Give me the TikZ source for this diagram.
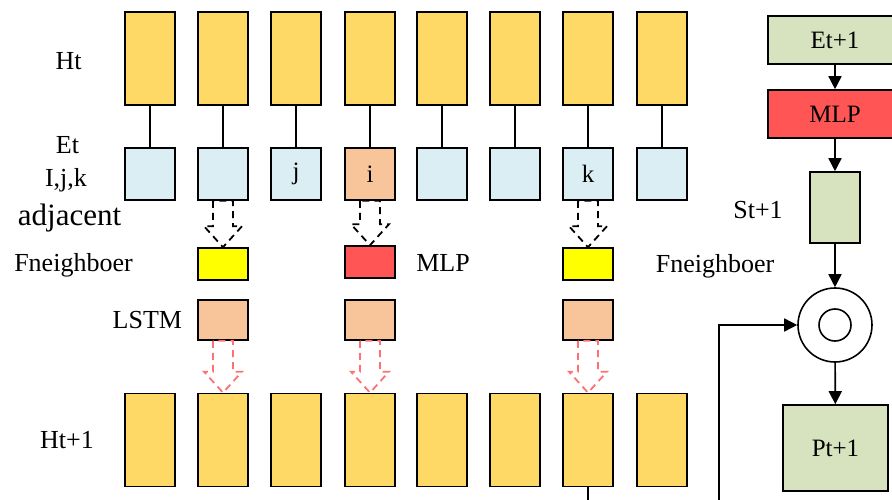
\documentclass[tikz,border=0pt]{standalone}
\usepackage{fontspec}
\setmainfont{Liberation Serif}
\usetikzlibrary{arrows.meta,calc,positioning}

\definecolor{hyellow}{HTML}{FFD966}
\definecolor{eblue}{HTML}{DAEEF3}
\definecolor{epeach}{HTML}{F8C59B}
\definecolor{mred}{HTML}{FF5555}
\definecolor{fyellow}{HTML}{FFFF00}
\definecolor{sgreen}{HTML}{D7E3BF}
\definecolor{dred}{HTML}{FF7070}

% hollow dashed arrow from the bottom of #2 to the top of #3
\newcommand{\hollowarrow}[3][]{%
  \draw[fatarrow,#1] let \p1=(#2.south), \p2=(#3.north) in
    (\x1-10pt,\y1) -- (\x1-10pt,\y2+21pt) -- (\x1-19pt,\y2+21pt) -- (\x1,\y2)
    -- (\x1+19pt,\y2+21pt) -- (\x1+10pt,\y2+21pt) -- (\x1+10pt,\y1) -- cycle;}

\begin{document}
\begin{tikzpicture}[x=1pt,y=-1pt]
\tikzset{box/.style={draw,line width=1.6pt,minimum width=50pt,inner sep=0pt,font=\fontsize{25}{28}\selectfont}}
\tikzset{hbox/.style={box,fill=hyellow,minimum height=93pt}}
\tikzset{ebox/.style={box,minimum height=52pt}}
\tikzset{sbox/.style={box,minimum height=32pt}}
\tikzset{lbox/.style={box,fill=epeach,minimum height=40pt}}
\tikzset{wbox/.style={box,minimum width=134pt,minimum height=48pt}}
\tikzset{lab/.style={font=\fontsize{26}{30}\selectfont,inner sep=0pt}}
\tikzset{link/.style={line width=1.6pt}}
\tikzset{flow/.style={line width=1.6pt,-{Triangle[length=13pt,width=13pt]}}}
\tikzset{fatarrow/.style={line width=1.8pt,dash pattern=on 7pt off 5pt}}
\clip (0,0) rectangle (892,500);

% columns of boxes
\foreach \c/\x/\t/\f in {1/150/{}/eblue,2/223/{}/eblue,3/296/j/eblue,4/370/i/epeach,
                         5/442/{}/eblue,6/515/{}/eblue,7/588/k/eblue,8/662/{}/eblue} {
  \node[hbox] (h\c) at (\x,58.5) {};
  \node[ebox,fill=\f] (e\c) at (\x,174) {\t};
  \node[hbox] (n\c) at (\x,440) {};
  \draw[link] (h\c) -- (e\c);
}

\node[sbox,fill=fyellow] (f2) at (223,264) {};
\node[sbox,fill=mred] (f4) at (370,262) {};
\node[sbox,fill=fyellow] (f7) at (588,264) {};
\node[lbox] (l2) at (223,320) {};
\node[lbox] (l4) at (370,320) {};
\node[lbox] (l7) at (588,320) {};

\hollowarrow{e2}{f2}
\hollowarrow{e4}{f4}
\hollowarrow{e7}{f7}
\hollowarrow[dred]{l2}{n2}
\hollowarrow[dred]{l4}{n4}
\hollowarrow[dred]{l7}{n7}

% labels on the left
\node[lab] (ht) at (68.5,61) {Ht};
\node[lab] (et) at (67.5,145) {Et};
\node[lab] (ijk) at (66,180) {I,j,k};
\node[lab,font=\fontsize{31}{34}\selectfont] (adj) at (69.5,218) {adjacent};
\node[lab] (fnl) at (73.5,265) {Fneighboer};
\node[lab,left=15pt of l2] (lstm) {LSTM};
\node[lab] (ht1) at (67,440) {Ht+1};
\node[lab] (mlpl) at (443,263) {MLP};
\node[lab] (fnr) at (715,266) {Fneighboer};

% right branch
\node[wbox,fill=sgreen] (et1) at (835,40) {Et+1};
\node[wbox,fill=mred] (mlp) at (835,114) {MLP};
\node[box,fill=sgreen,minimum height=71pt] (st1) at (835,207.5) {};
\node[lab] (stl) at (758,210) {St+1};
\node[circle,draw,line width=1.6pt,minimum size=74pt,inner sep=0pt] (dot) at (835,325) {};
\node[circle,draw,line width=1.6pt,minimum size=32pt,inner sep=0pt] (dotin) at (835,325) {};
\node[box,fill=sgreen,minimum width=105pt,minimum height=86pt] (pt1) at (835.5,448) {Pt+1};

\coordinate (outh) at (588,500);
\coordinate (inh) at (719,500);
\draw[link] (n7) -- (outh);
\draw[flow] (inh) |- (dot);
\draw[flow] (et1) -- (mlp);
\draw[flow] (mlp) -- (st1);
\draw[flow] (st1) -- (dot);
\draw[flow] (dot) -- (pt1);
\end{tikzpicture}
\end{document}
